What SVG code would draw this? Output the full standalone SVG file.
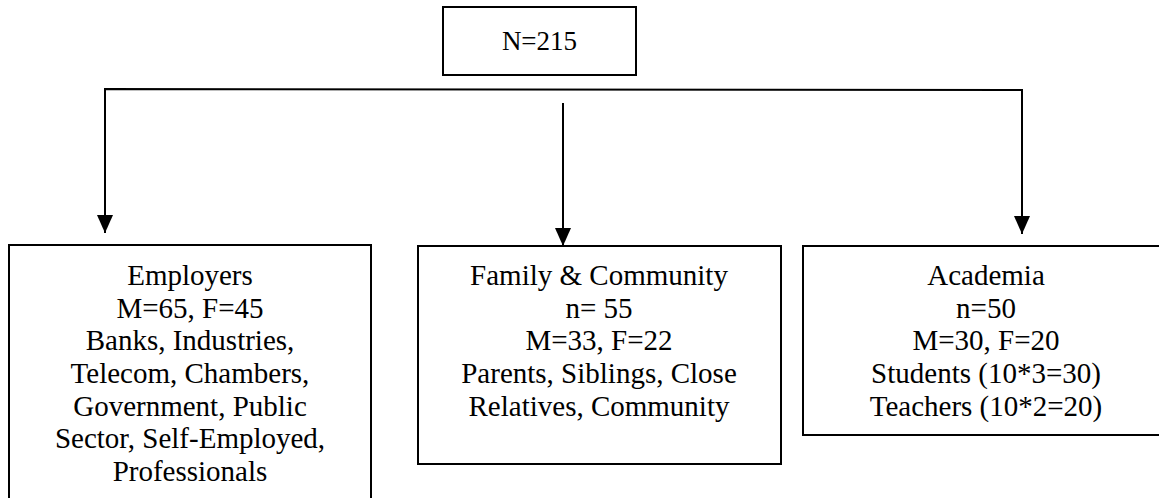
<svg xmlns="http://www.w3.org/2000/svg" width="1159" height="498" viewBox="0 0 1159 498">
<style>
.box{fill:#fff;stroke:#000;stroke-width:2}
.t{font-family:"Liberation Serif","Times New Roman",serif;font-size:29px;fill:#000;text-anchor:middle}
.c{stroke:#000;stroke-width:2;fill:none}
</style>
<defs>
<marker id="ah" markerUnits="userSpaceOnUse" markerWidth="18" markerHeight="16" refX="18" refY="8" orient="auto" viewBox="0 0 18 16">
<path d="M0,0 L18,8 L0,16 Z" fill="#000"/>
</marker>
</defs>
<rect width="1159" height="498" fill="#fff"/>
<g id="connectors">
<path class="c" d="M105,225 L105,89 L1022,90 L1022,225"/>
<path class="c" d="M105,215 L105,233" marker-end="url(#ah)"/>
<path class="c" d="M1022,216 L1022,234" marker-end="url(#ah)"/>
<path class="c" d="M563,103 L563,246" stroke-width="1.8" marker-end="url(#ah)"/>
</g>
<g id="root">
<rect class="box" x="443" y="7" width="193" height="68"/>
<text class="t" x="539.5" y="50" style="font-size:27px">N=215</text>
</g>
<g id="employers">
<rect class="box" x="9" y="245" width="362" height="270"/>
<text class="t" x="190" y="285">Employers</text>
<text class="t" x="190" y="318">M=65, F=45</text>
<text class="t" x="190" y="350">Banks, Industries,</text>
<text class="t" x="190" y="383">Telecom, Chambers,</text>
<text class="t" x="190" y="416">Government, Public</text>
<text class="t" x="190" y="448">Sector, Self-Employed,</text>
<text class="t" x="190" y="481">Professionals</text>
</g>
<g id="family">
<rect class="box" x="418" y="246" width="363" height="218"/>
<text class="t" x="599" y="285">Family &amp; Community</text>
<text class="t" x="599" y="318">n= 55</text>
<text class="t" x="599" y="350">M=33, F=22</text>
<text class="t" x="599" y="383">Parents, Siblings, Close</text>
<text class="t" x="599" y="416">Relatives, Community</text>
</g>
<g id="academia">
<rect class="box" x="803" y="246" width="370" height="189"/>
<text class="t" x="986" y="285">Academia</text>
<text class="t" x="986" y="318">n=50</text>
<text class="t" x="986" y="350">M=30, F=20</text>
<text class="t" x="986" y="383">Students (10*3=30)</text>
<text class="t" x="986" y="416">Teachers (10*2=20)</text>
</g>
</svg>
